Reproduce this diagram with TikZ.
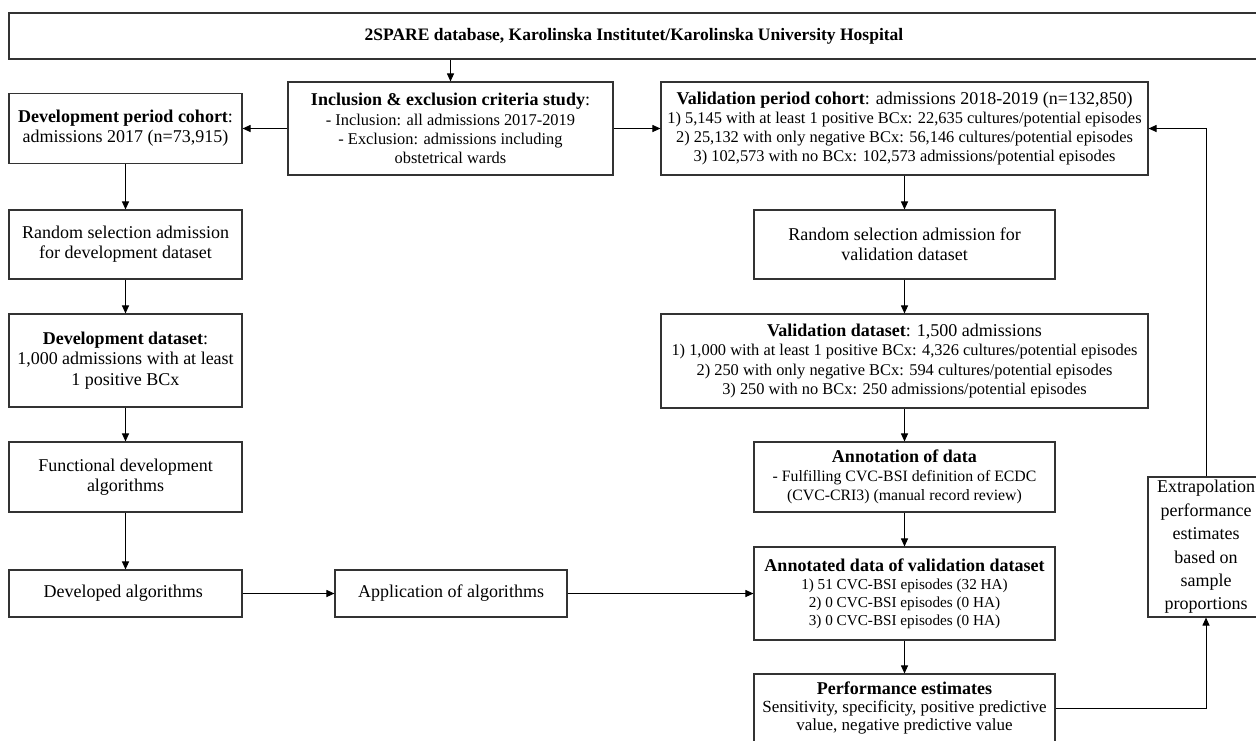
\documentclass[tikz,border=0pt]{standalone}
\usepackage{fontspec}
\setmainfont{Liberation Serif}
\usetikzlibrary{arrows.meta}

\newcommand{\hdr}[1]{{\fontsize{18}{19.3}\selectfont\bfseries #1}}
\newcommand{\hdrr}[1]{{\fontsize{18}{19.3}\selectfont #1}}

\begin{document}
\begin{tikzpicture}[x=1pt, y=-1pt,
  box/.style={rectangle, draw=black!80, line width=1.1pt, align=center,
              inner sep=0pt, font={\fontsize{16.4}{19.3}\selectfont}},
  wide/.style={box, minimum width=487pt},
  narrow/.style={box, minimum width=301pt},
  arr/.style={-{Triangle[length=8pt, width=7pt]}, line width=1pt},
]
\useasboundingbox (0,0) rectangle (1256,740);

\node[box, minimum width=1250pt, minimum height=46pt,
      font={\fontsize{17.5}{20}\selectfont\bfseries}] (db) at (634,36)
  {2SPARE database, Karolinska Institutet/Karolinska University Hospital};
\node[box, minimum width=325pt, minimum height=93pt] (incl) at (450.5,128.5)
  {\hdr{Inclusion \& exclusion criteria study}\hdrr{:}\\
   - Inclusion: all admissions 2017-2019\\
   - Exclusion: admissions including\\obstetrical wards};

% development side: one column of equal-width boxes
\foreach \name/\y/\h/\txt in {
  dev/128.5/70/{\textbf{Development period cohort}:\\admissions 2017 (n=73,915)},
  rsd/244.5/69/{Random selection admission\\for development dataset},
  dds/360.5/93/{\textbf{Development dataset}:\\1,000 admissions with at least\\1 positive BCx},
  fda/477/70/{Functional development\\algorithms},
  dal/593.5/47/{Developed algorithms}
} {
  \node[box, minimum width=233pt, minimum height=\h pt,
        font={\fontsize{18}{20.3}\selectfont}] (\name) at (125.5,\y) {\txt};
}

% validation side: wide boxes hold the count lists
\node[wide, minimum height=93pt] (vpc) at (904.5,128.5)
  {\hdr{Validation period cohort}\hdrr{: admissions 2018-2019 (n=132,850)}\\
   1) 5,145 with at least 1 positive BCx: 22,635 cultures/potential episodes\\
   2) 25,132 with only negative BCx: 56,146 cultures/potential episodes\\
   3) 102,573 with no BCx: 102,573 admissions/potential episodes};
\node[narrow, minimum height=69pt, font={\fontsize{18}{20.3}\selectfont}] (rsv) at (904.5,244.5)
  {Random selection admission for\\validation dataset};
\node[wide, minimum height=94pt] (vds) at (904.5,361)
  {\hdr{Validation dataset}\hdrr{: 1,500 admissions}\\
   1) 1,000 with at least 1 positive BCx: 4,326 cultures/potential episodes\\
   2) 250 with only negative BCx: 594 cultures/potential episodes\\
   3) 250 with no BCx: 250 admissions/potential episodes};
\node[narrow, minimum height=70pt, font={\fontsize{15.8}{19}\selectfont}] (ann) at (904.5,477)
  {\hdr{Annotation of data}\\
   - Fulfilling CVC-BSI definition of ECDC\\(CVC-CRI3) (manual record review)};
\node[narrow, minimum height=93pt, font={\fontsize{15.2}{18}\selectfont}] (add) at (904.5,593.5)
  {\hdr{Annotated data of validation dataset}\\
   1) 51 CVC-BSI episodes (32 HA)\\2) 0 CVC-BSI episodes (0 HA)\\3) 0 CVC-BSI episodes (0 HA)};
\node[narrow, minimum height=68pt, font={\fontsize{17}{18}\selectfont}] (perf) at (904.5,708)
  {\hdr{Performance estimates}\\
   Sensitivity, specificity, positive predictive\\value, negative predictive value};

\node[box, minimum width=232pt, minimum height=47pt,
      font={\fontsize{18}{20.3}\selectfont}] (app) at (451,593.5) {Application of algorithms};
\node[box, minimum width=116pt, minimum height=140pt,
      font={\fontsize{18}{23.4}\selectfont}] (ext) at (1206,547)
  {Extrapolation\\performance\\estimates\\based on\\sample\\proportions};

% connectors
\draw[arr] (db.south -| incl.north) -- (incl.north);
\draw[arr] (incl.west) -- (dev.east);
\draw[arr] (incl.east) -- (vpc.west);
\foreach \a/\b in {dev/rsd, rsd/dds, dds/fda, fda/dal, vpc/rsv, rsv/vds, vds/ann, ann/add, add/perf}
  \draw[arr] (\a) -- (\b);
\draw[arr] (dal.east) -- (app.west);
\draw[arr] (app.east) -- (add.west);
\draw[arr] (perf.east) -| (ext.south);
\draw[arr] (ext.north) |- (vpc.east);
\end{tikzpicture}
\end{document}
